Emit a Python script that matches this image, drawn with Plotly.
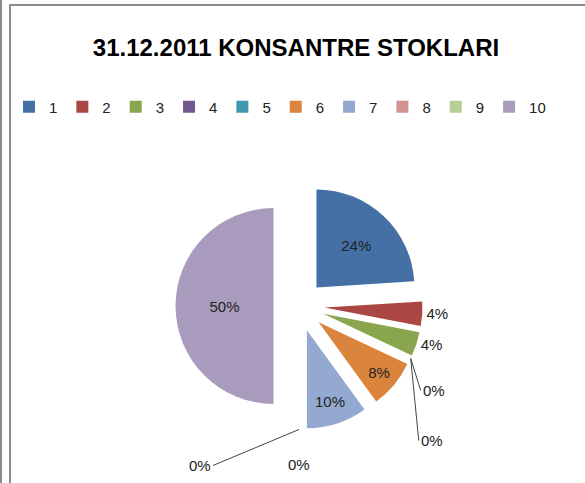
import math
import plotly.graph_objects as go

labels = ["1", "2", "3", "4", "5", "6", "7", "8", "9", "10"]
values = [24, 4, 4, 0, 0, 8, 10, 0, 0, 50]
colors = ["#4470A6", "#AA4643", "#89A54E", "#71588F", "#4198AF",
          "#DB843D", "#93A9CF", "#D19392", "#B9CD96", "#A99BBD"]
text_pos = ["inside", "outside", "outside", "none", "none",
            "inside", "inside", "none", "none", "inside"]
title_text = "31.12.2011 KONSANTRE STOKLARI"

W, H = 585, 483
FONT = "Liberation Sans, Arial, sans-serif"
PULL = 0.26

# pie geometry (pixels, page coords with y downward)
CX, CY, R = 299, 306, 98
half = R * (1 + PULL)
dom_x = [(CX - half) / W, (CX + half) / W]
dom_y = [(H - CY - half) / H, (H - CY + half) / H]

fig = go.Figure(go.Pie(
    labels=labels,
    values=values,
    sort=False,
    direction="clockwise",
    rotation=0,
    pull=[PULL] * len(values),
    marker=dict(colors=colors, line=dict(width=0)),
    texttemplate="%{percent:.0%}",
    textposition=text_pos,
    insidetextorientation="horizontal",
    textfont=dict(family=FONT, size=15, color="#222222"),
    outsidetextfont=dict(family=FONT, size=15, color="#222222"),
    insidetextfont=dict(family=FONT, size=15, color="#222222"),
    domain=dict(x=dom_x, y=dom_y),
    hoverinfo="label+percent",
))

# labels for zero-valued slices, anchored at the outer edge of each (pulled) slice
total = sum(values)
label_offsets = {3: (10, 32, True), 4: (8, 82, True), 7: (-86, 36, True), 8: (0, 46, False)}
annotations = []
cum = 0
for i, v in enumerate(values):
    mid = (cum + v / 2) / total * 2 * math.pi
    cum += v
    if i in label_offsets:
        dist = R * (1 + PULL)
        px = CX + dist * math.sin(mid)
        py = CY - dist * math.cos(mid)
        ax, ay, arrow = label_offsets[i]
        if arrow:
            annotations.append(dict(
                x=px / W, y=(H - py) / H, xref="paper", yref="paper",
                text=f"{v / total:.0%}", showarrow=True, arrowhead=0, arrowwidth=1,
                arrowcolor="#444444", ax=ax, ay=ay, xanchor="left" if ax >= 0 else "right",
                font=dict(family=FONT, size=15, color="#222222")))
        else:
            annotations.append(dict(
                x=(px + ax) / W, y=(H - py - ay) / H, xref="paper", yref="paper",
                text=f"{v / total:.0%}", showarrow=False,
                font=dict(family=FONT, size=15, color="#222222")))

fig.update_layout(
    width=W, height=H,
    margin=dict(l=0, r=0, t=0, b=0, autoexpand=False),
    paper_bgcolor="white",
    plot_bgcolor="white",
    title=dict(text="<b>" + title_text + "</b>", x=296 / W, y=(H - 48) / H,
               xanchor="center", yanchor="middle",
               font=dict(family=FONT, size=24, color="#000000")),
    legend=dict(orientation="h", x=280 / W, y=(H - 107) / H, xanchor="center", yanchor="middle",
                font=dict(family=FONT, size=15, color="#222222"),
                bgcolor="rgba(0,0,0,0)", traceorder="normal"),
    annotations=annotations,
    shapes=[
        dict(type="line", xref="paper", yref="paper", x0=1 / W, x1=1 / W, y0=0, y1=1,
             line=dict(color="#8C8C8C", width=2)),
        dict(type="line", xref="paper", yref="paper", x0=10 / W, x1=10 / W, y0=0, y1=(H - 4) / H,
             line=dict(color="#8C8C8C", width=2)),
        dict(type="line", xref="paper", yref="paper", x0=9 / W, x1=1, y0=(H - 5) / H, y1=(H - 5) / H,
             line=dict(color="#8C8C8C", width=2)),
    ],
)

fig.write_html("out.html", config={"displayModeBar": False},
               post_script="document.body.style.margin='0';document.body.style.overflow='hidden';")
